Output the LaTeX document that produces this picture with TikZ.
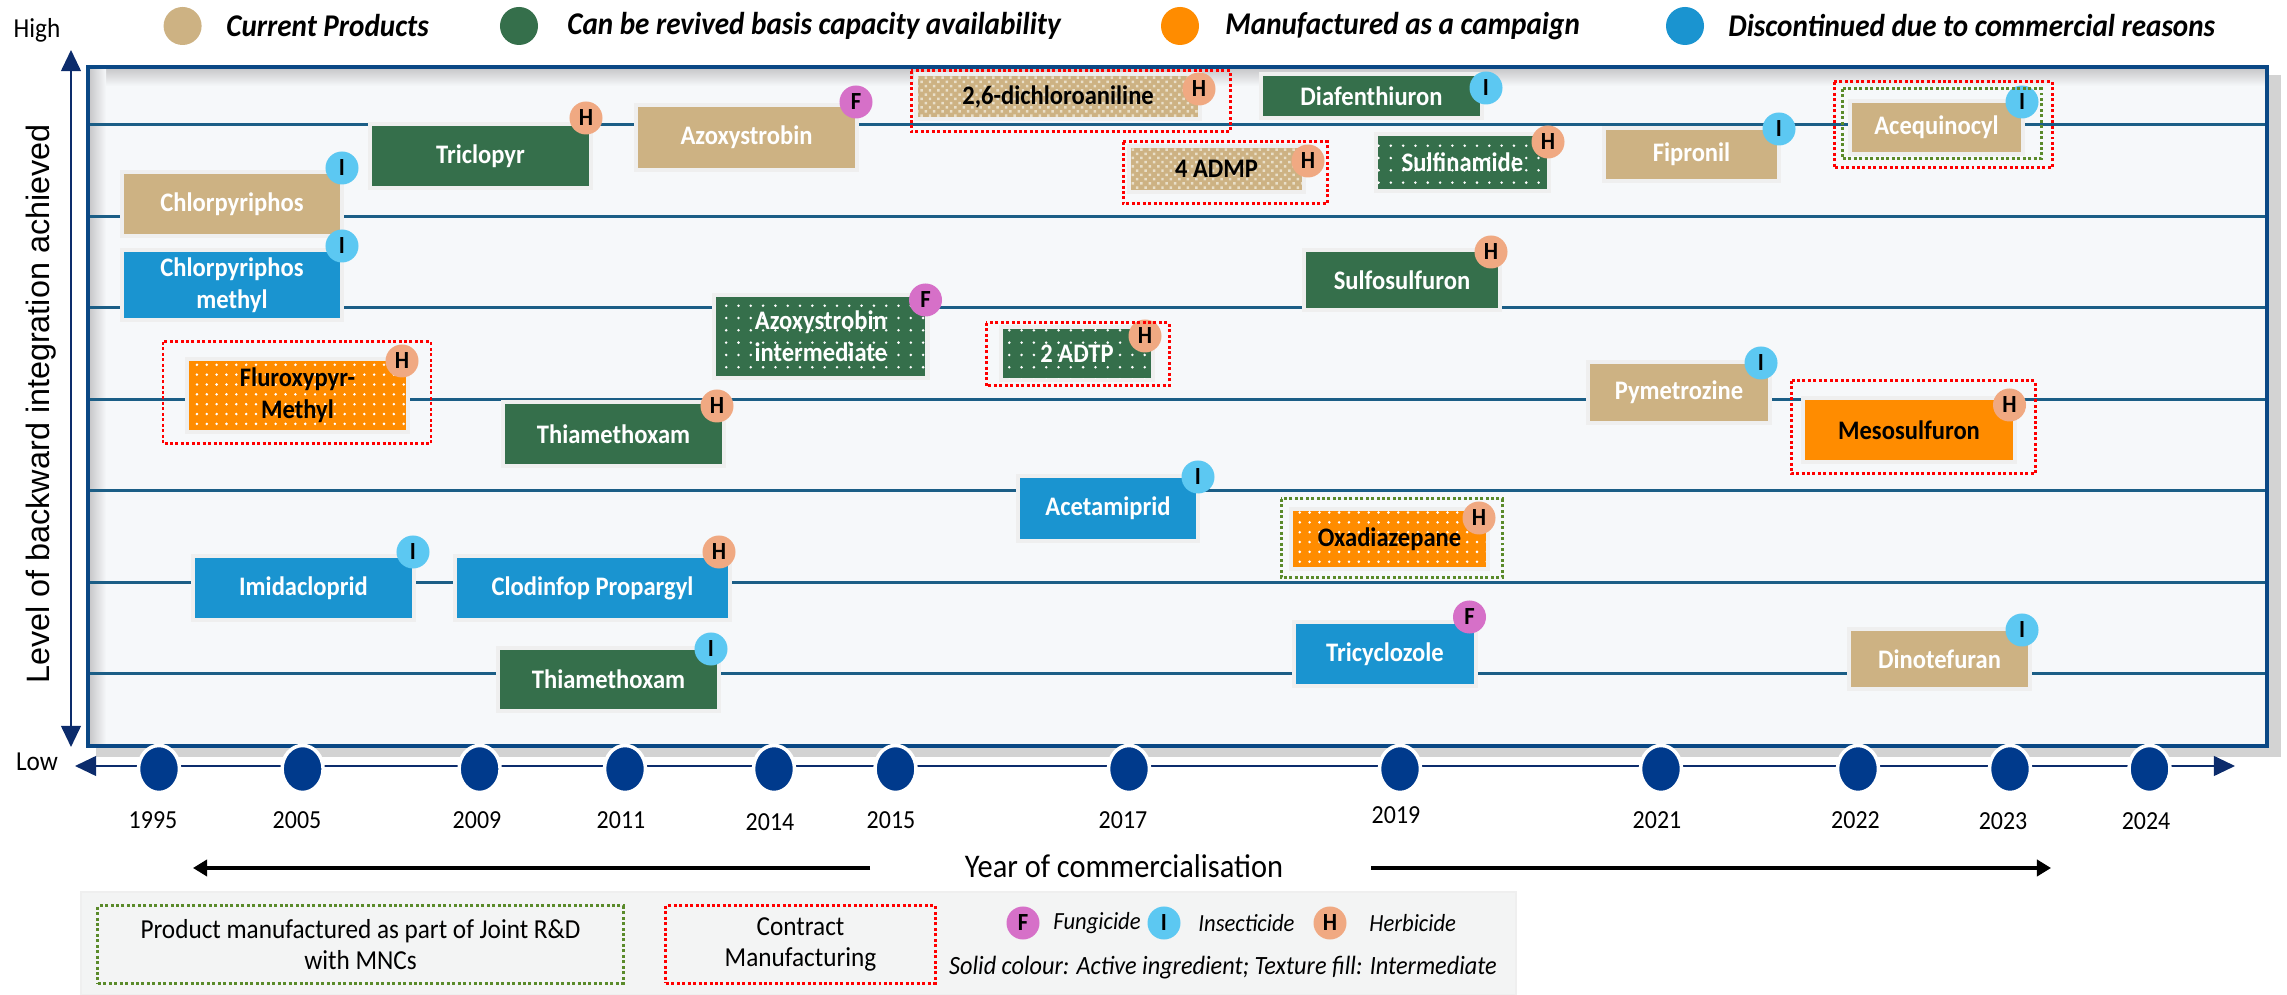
\documentclass[tikz,border=0pt]{standalone}
\usepackage{fontspec}
\setmainfont{Carlito}[FakeStretch=0.92]
\newfontfamily\arialfont{Liberation Sans}
\usetikzlibrary{arrows.meta,patterns.meta,shapes.geometric}

\definecolor{tanprod}{HTML}{CDB283}
\definecolor{tanlight}{HTML}{E9DFC9}
\definecolor{greenprod}{HTML}{356F4B}
\definecolor{orangeprod}{HTML}{FF8C00}
\definecolor{blueprod}{HTML}{1A94D0}
\definecolor{fungcol}{HTML}{D670C8}
\definecolor{insectcol}{HTML}{5CC8F2}
\definecolor{herbcol}{HTML}{F0A982}
\definecolor{framecol}{HTML}{0A4885}
\definecolor{rowcol}{HTML}{1B5E86}
\definecolor{navycol}{HTML}{0C2C6C}
\definecolor{dotcol}{HTML}{003A8C}
\definecolor{panel}{HTML}{F6F8FA}
\definecolor{innershade}{HTML}{C9C9CB}
\definecolor{shadowgray}{HTML}{D3D3D3}
\definecolor{halo}{HTML}{EFEFEF}
\definecolor{cmred}{HTML}{FF0000}
\definecolor{jvgreen}{HTML}{5A8A2A}
\definecolor{legendbg}{HTML}{F3F4F4}

\tikzset{
  prod/.style={rectangle, inner sep=0pt, align=center, text=white,
    font=\fontsize{7.6}{9}\selectfont\bfseries,
    preaction={draw=halo, line width=2.4pt}},
  current/.style={prod, fill=tanprod},
  revived/.style={prod, fill=greenprod},
  campaign/.style={prod, fill=orangeprod, text=black},
  stopped/.style={prod, fill=blueprod},
  tancross/.style={prod, text=black, preaction={fill=tanprod},
    pattern={Dots[distance=1.7pt, radius=0.5pt, angle=45]}, pattern color=tanlight},
  greendots/.style={prod, preaction={fill=greenprod},
    pattern={Dots[distance=3.5pt, radius=0.4pt]}, pattern color=white},
  orangedots/.style={prod, text=black, preaction={fill=orangeprod},
    pattern={Dots[distance=2.8pt, radius=0.4pt]}, pattern color=white},
  badge/.style={circle, inner sep=0pt, minimum size=0.33cm,
    font=\fontsize{7}{7}\selectfont\bfseries},
  fung/.style={badge, fill=fungcol},
  insect/.style={badge, fill=insectcol},
  herb/.style={badge, fill=herbcol},
  cmframe/.style={draw=cmred, line width=0.85pt, dash pattern=on 0.85pt off 0.7pt},
  jvframe/.style={draw=jvgreen, line width=0.85pt, dash pattern=on 0.85pt off 0.7pt},
  rowline/.style={draw=rowcol, line width=0.85pt},
  axisline/.style={draw=navycol, line width=0.6pt,
    {Triangle[length=6pt,width=5.6pt]}-{Triangle[length=6pt,width=5.6pt]}},
  yeardot/.style={ellipse, fill=dotcol, draw=white, line width=1pt,
    minimum width=0.41cm, minimum height=0.47cm, inner sep=0pt},
  yearlbl/.style={font=\fontsize{7.4}{8}\selectfont},
  legdot/.style={circle, inner sep=0pt, minimum size=0.38cm},
  legtxt/.style={anchor=west, font=\fontsize{9}{10}\selectfont\bfseries\itshape},
  keytxt/.style={anchor=west, font=\fontsize{7}{9}\selectfont\itshape},
  blackarrow/.style={draw=black, line width=0.95pt, -{Triangle[length=4pt,width=4.6pt]}}
}

\begin{document}
\begin{tikzpicture}[x=0.01cm, y=-0.01cm]
  \useasboundingbox (0,0) rectangle (2287,995);

  % panel
  \fill[shadowgray] (96,75) rectangle (2281,757);
  \fill[panel] (88,67) rectangle (2267,746);
  \shade[top color=innershade, bottom color=panel] (90,69) rectangle (2265,86);
  \shade[left color=innershade, right color=panel] (90,69) rectangle (106,744);
  \foreach \y in {125,216.7,308,399.3,490.7,582.5,674}
    \draw[rowline] (90,\y) -- (2265,\y);
  \draw[draw=framecol, line width=1.15pt] (88,67) rectangle (2267,746);

  % products
  \node[current, minimum width=2.16cm, minimum height=0.60cm] (chlor) at (232,204) {Chlorpyriphos};
  \node[insect] (chlorI) at (342,168) {I};
  \node[revived, minimum width=2.17cm, minimum height=0.60cm] (triclo) at (480.5,156) {Triclopyr};
  \node[herb] (tricloH) at (586,118) {H};
  \node[current, minimum width=2.17cm, minimum height=0.61cm] (azoxy) at (746.5,137.5) {Azoxystrobin};
  \node[fung] (azoxyF) at (856,102) {F};
  \node[tancross, minimum width=2.80cm, minimum height=0.41cm] (dichloro) at (1058,96.5) {2,6-dichloroaniline};
  \node[herb] (dichloroH) at (1199,89) {H};
  \node[revived, minimum width=2.17cm, minimum height=0.40cm] (diafen) at (1371.5,96) {Diafenthiuron};
  \node[insect] (diafenI) at (1486,88) {I};
  \node[tancross, minimum width=1.71cm, minimum height=0.42cm] (admp) at (1216.5,169) {4 ADMP};
  \node[herb] (admpH) at (1308,161) {H};
  \node[greendots, minimum width=1.69cm, minimum height=0.53cm] (sulfin) at (1462.5,162.5) {Sulfinamide};
  \node[herb] (sulfinH) at (1548,142) {H};
  \node[current, minimum width=1.71cm, minimum height=0.49cm] (fipro) at (1691.5,154.5) {Fipronil};
  \node[insect] (fiproI) at (1779,129) {I};
  \node[current, minimum width=1.69cm, minimum height=0.49cm] (acequ) at (1936.5,127.5) {Acequinocyl};
  \node[insect] (acequI) at (2022,102) {I};

  \node[stopped, minimum width=2.16cm, minimum height=0.66cm] (chlorme) at (232,285) {Chlorpyriphos\\methyl};
  \node[insect] (chlormeI) at (342,246) {I};
  \node[revived, minimum width=1.92cm, minimum height=0.56cm] (sulfosul) at (1402,280) {Sulfosulfuron};
  \node[herb] (sulfosulH) at (1491,252) {H};
  \node[greendots, minimum width=2.09cm, minimum height=0.79cm] (azoxyint) at (820.8,336.5) {Azoxystrobin\\intermediate};
  \node[fung] (azoxyintF) at (925.5,300) {F};
  \node[greendots, minimum width=1.48cm, minimum height=0.49cm] (adtp) at (1077,353.5) {2 ADTP};
  \node[herb] (adtpH) at (1145,336) {H};
  \node[orangedots, minimum width=2.17cm, minimum height=0.69cm] (fluroxy) at (297.5,395.5) {Fluroxypyr-\\Methyl};
  \node[herb] (fluroxyH) at (402,361) {H};
  \node[revived, minimum width=2.17cm, minimum height=0.60cm] (thiaup) at (613.5,434) {Thiamethoxam};
  \node[herb] (thiaupH) at (717,406) {H};
  \node[current, minimum width=1.78cm, minimum height=0.57cm] (pymet) at (1679,392.5) {Pymetrozine};
  \node[insect] (pymetI) at (1761,363) {I};
  \node[campaign, minimum width=2.08cm, minimum height=0.60cm] (meso) at (1909,430) {Mesosulfuron};
  \node[herb] (mesoH) at (2009.5,405) {H};
  \node[stopped, minimum width=1.76cm, minimum height=0.61cm] (acet) at (1108,508.5) {Acetamiprid};
  \node[insect] (acetI) at (1198,477) {I};
  \node[orangedots, minimum width=1.93cm, minimum height=0.56cm] (oxadi) at (1389.5,539) {Oxadiazepane};
  \node[herb] (oxadiH) at (1479,518) {H};
  \node[stopped, minimum width=2.17cm, minimum height=0.60cm] (imida) at (303.5,588) {Imidacloprid};
  \node[insect] (imidaI) at (413,552) {I};
  \node[stopped, minimum width=2.71cm, minimum height=0.60cm] (clodin) at (592.5,588) {Clodinfop Propargyl};
  \node[herb] (clodinH) at (719,552) {H};
  \node[revived, minimum width=2.17cm, minimum height=0.59cm] (thialow) at (608.5,679.5) {Thiamethoxam};
  \node[insect] (thialowI) at (711,649) {I};
  \node[stopped, minimum width=1.78cm, minimum height=0.60cm] (tricyc) at (1385,654) {Tricyclozole};
  \node[fung] (tricycF) at (1469.5,617) {F};
  \node[current, minimum width=1.77cm, minimum height=0.56cm] (dinote) at (1939.5,659) {Dinotefuran};
  \node[insect] (dinoteI) at (2022,630) {I};

  % contract / joint R&D marks
  \draw[cmframe] (911,71) rectangle (1230,132);
  \draw[cmframe] (1123,142) rectangle (1327,204);
  \draw[jvframe] (1842,89) rectangle (2041,159);
  \draw[cmframe] (1834,82) rectangle (2052,168);
  \draw[cmframe] (986,323) rectangle (1169,386);
  \draw[cmframe] (163,342) rectangle (431,444);
  \draw[cmframe] (1791,381) rectangle (2035,474);
  \draw[jvframe] (1281,499) rectangle (1502,578);

  % axes
  \coordinate (ytop) at (71,50);
  \coordinate (ybot) at (71,747);
  \draw[axisline] (ytop) -- (ybot);
  \coordinate (xleft) at (75,766);
  \coordinate (xright) at (2235,766);
  \draw[axisline] (xleft) -- (xright);
  \node[font=\fontsize{7.8}{9}\selectfont] (high) at (37,30) {High};
  \node[font=\fontsize{7.8}{9}\selectfont] (low) at (37,762) {Low};
  \node[rotate=90, font=\arialfont\fontsize{9.2}{11}\selectfont] (ylabel) at (41,404) {Level of backward integration achieved};

  \foreach \cx/\lx/\ly/\yr in {159/153/820/1995, 302.6/297/820/2005, 479.6/477/820/2009,
      625/621/820/2011, 774/770/822/2014, 895.5/891/820/2015, 1129/1123/820/2017,
      1400/1396/815/2019, 1661/1657/820/2021, 1858/1855.5/820/2022, 2010/2003/821/2023,
      2149.5/2146/821/2024}{
    \node[yeardot] (dot\yr) at (\cx,769) {};
    \node[yearlbl] (lbl\yr) at (\lx,\ly) {\yr};
  }

  \node[font=\fontsize{9.4}{11}\selectfont] (xlabel) at (1124,866) {Year of commercialisation};
  \coordinate (pastA) at (870,868);
  \coordinate (pastB) at (193,868);
  \draw[blackarrow] (pastA) -- (pastB);
  \coordinate (nowA) at (1371,868);
  \coordinate (nowB) at (2051,868);
  \draw[blackarrow] (nowA) -- (nowB);

  % top legend
  \node[legdot, fill=tanprod] (legcur) at (182.6,26) {};
  \node[legtxt] (legcurT) at (214,26) {Current Products};
  \node[legdot, fill=greenprod] (legrev) at (519,26) {};
  \node[legtxt] (legrevT) at (555,26) {Can be revived basis capacity availability};
  \node[legdot, fill=orangeprod] (legcam) at (1180,26) {};
  \node[legtxt] (legcamT) at (1213,26) {Manufactured as a campaign};
  \node[legdot, fill=blueprod] (legdis) at (1685,26) {};
  \node[legtxt] (legdisT) at (1716,26) {Discontinued due to commercial reasons};

  % bottom legend
  \filldraw[fill=legendbg, draw=halo, line width=0.8pt] (81,892) rectangle (1516,995);
  \node[jvframe, minimum width=5.25cm, minimum height=0.77cm, align=center,
    font=\fontsize{7.8}{9}\selectfont] (keyjv) at (360.5,944.5)
    {Product manufactured as part of Joint R\&D\\with MNCs};
  \node[cmframe, minimum width=2.69cm, minimum height=0.77cm, align=center,
    font=\fontsize{7.8}{9}\selectfont] (keycm) at (800.5,944.5)
    {Contract\\Manufacturing};
  \node[fung] (keyF) at (1023,923) {F};
  \node[keytxt] (keyFT) at (1041,923) {Fungicide};
  \node[insect] (keyI) at (1164,923) {I};
  \node[keytxt] (keyIT) at (1186,923) {Insecticide};
  \node[herb] (keyH) at (1330,923) {H};
  \node[keytxt] (keyHT) at (1357,923) {Herbicide};
  \node[font=\fontsize{7.5}{9}\selectfont\itshape] (keyfill) at (1223,968)
    {Solid colour: Active ingredient; Texture fill: Intermediate};
\end{tikzpicture}
\end{document}
